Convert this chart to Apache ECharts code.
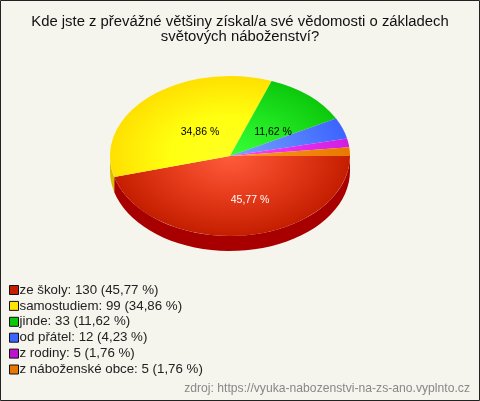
<!DOCTYPE html>
<html><head><meta charset="utf-8">
<style>html,body{margin:0;padding:0;background:#f5f4ed}#c{width:480px;height:401px}</style>
<script src="https://cdn.jsdelivr.net/npm/echarts@6/dist/echarts.min.js"></script>
</head><body><div id="c"></div>
<script>
var titleText = 'Kde jste z převážné většiny získal/a své vědomosti o základech\nsvětových náboženství?';
var sourceText = 'zdroj: https://vyuka-nabozenstvi-na-zs-ano.vyplnto.cz';
var categories = ['ze školy','samostudiem','jinde','od přátel','z rodiny','z náboženské obce'];
var counts = [130,99,33,12,5,5];
var percents = ['45,77','34,86','11,62','4,23','1,76','1,76'];
var centerColors = ['#ff5c3c','#ffff22','#38ff38','#7aa4ff','#ff44ff','#ff9a22'];
var midColors = ['#e63c1c','#ffff10','#22e822','#5a84ff','#e830f0','#f48a10'];
var edgeColors = ['#c41e00','#ffe000','#0cc80c','#3c64ff','#d01ee0','#e87800'];
var sideColors = ['#a80000','#d8c000','#0a900a','#2040c0','#9010a0','#b05000'];
var swatchColors = ['#c41e00','#ffe400','#0cc80c','#3c64ff','#c010d0','#e87800'];
var labelColors = ['#ffffff','#000000','#000000'];
var labelOffsets = [[20,44],[-30,-24],[43,-24]];

var cx=230, cy=156, rx=120, ry=80, depth=15;
var total = counts.reduce(function(a,b){return a+b;},0);
var starts=[], acc=0;
counts.forEach(function(v){starts.push(acc); acc+=v;});

function wallPoints(a0,a1){
  var pts=[],n=40,i,t;
  for(i=0;i<=n;i++){t=a0+(a1-a0)*i/n;pts.push([cx+rx*Math.cos(t),cy+ry*Math.sin(t)]);}
  for(i=n;i>=0;i--){t=a0+(a1-a0)*i/n;pts.push([cx+rx*Math.cos(t),cy+depth+ry*Math.sin(t)]);}
  return pts;
}
var series = categories.map(function(name,idx){
  return {
    name:name, type:'custom', coordinateSystem:'none', silent:true,
    itemStyle:{color:swatchColors[idx]},
    z: 2,
    data:[[starts[idx],counts[idx]]],
    renderItem:function(params,api){
      var s=api.value(0), v=api.value(1);
      var a0=s/total*Math.PI*2, a1=(s+v)/total*Math.PI*2;
      var children=[];
      var w0=Math.max(a0,0), w1=Math.min(a1,Math.PI);
      if(w1>w0){children.push({type:'polygon',shape:{points:wallPoints(w0,w1)},style:{fill:sideColors[idx]}});}
      children.push({type:'sector',x:cx,y:cy,scaleX:rx,scaleY:ry,
        shape:{cx:0,cy:0,r0:0,r:1,startAngle:a0,endAngle:a1,clockwise:true},
        style:{fill:new echarts.graphic.RadialGradient(0,0,1,[
          {offset:0,color:centerColors[idx]},{offset:0.5,color:midColors[idx]},{offset:1,color:edgeColors[idx]}],true)}});
      if(labelOffsets[idx]){children.push({type:'text',z2:50,x:cx+labelOffsets[idx][0],y:cy+labelOffsets[idx][1],
        style:{text:percents[idx]+' %',fill:labelColors[idx],font:'10.5px "Liberation Sans"',align:'center',verticalAlign:'middle'}});}
      return {type:'group',children:children};
    }
  };
});
var chart=echarts.init(document.getElementById('c'));
chart.setOption({
  animation:false,
  backgroundColor:'#f5f4ed',
  title:{text:titleText,left:235,textAlign:'center',top:9,textStyle:{fontFamily:'Liberation Sans',fontSize:14.85,fontWeight:'normal',color:'#111111',lineHeight:15}},
  legend:{orient:'vertical',left:9,top:283,itemWidth:9,itemHeight:9,itemGap:1.9,padding:0,selectedMode:false,icon:'rect',
    itemStyle:{borderColor:'#111111',borderWidth:1},
    textStyle:{fontFamily:'Liberation Sans',fontSize:13.3,lineHeight:14,color:'#222222',padding:[0,0,0,-4]},
    data:categories,
    formatter:function(n){var i=categories.indexOf(n);return n+': '+counts[i]+' ('+percents[i]+' %)';}},
  series:series,
  graphic:[
    {type:'rect',shape:{x:0.5,y:0.5,width:479,height:400},style:{fill:'none',stroke:'#222222',lineWidth:1},silent:true},
    {type:'text',right:10,top:383,style:{text:sourceText,fill:'#888888',font:'12.17px "Liberation Sans"'},silent:true}
  ]
});
</script></body></html>
